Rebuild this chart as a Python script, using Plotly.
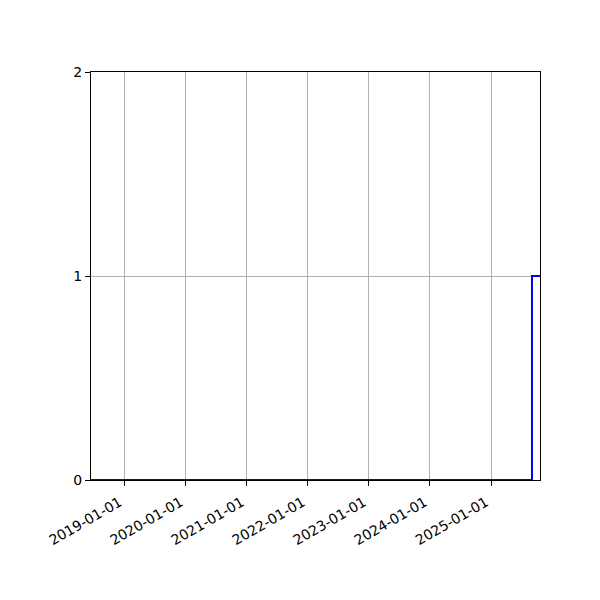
import plotly.graph_objects as go

dates = ["2018-06-14", "2025-09-03", "2025-10-21"]
values = [0, 1, 1]
tick_vals = ["2019-01-01", "2020-01-01", "2021-01-01", "2022-01-01",
             "2023-01-01", "2024-01-01", "2025-01-01"]
tick_text = tick_vals
x_range = ["2018-06-14", "2025-10-21"]

fig = go.Figure()
fig.add_trace(go.Scatter(
    x=dates, y=values, mode="lines",
    line=dict(color="#0000ff", width=2, shape="hv"),
    cliponaxis=False, showlegend=False,
))

axis_common = dict(
    showline=True, linecolor="black", linewidth=1, mirror=True,
    ticks="outside", ticklen=5, tickcolor="black", tickwidth=1,
    showgrid=True, gridcolor="#b0b0b0", gridwidth=1,
    zeroline=False, layer="below traces",
    tickfont=dict(family="DejaVu Sans", size=14, color="black"),
)

fig.update_layout(
    width=600, height=600,
    margin=dict(l=83, r=68, t=64, b=128),
    paper_bgcolor="white", plot_bgcolor="white",
    xaxis=dict(type="date", range=x_range, tickvals=tick_vals, ticktext=tick_text,
               tickangle=-30, ticklabelshift=-5, ticklabelstandoff=3, **axis_common),
    yaxis=dict(range=[0, 2], tickvals=[0, 1, 2], ticktext=["0", "1", "2"], **axis_common),
)

fig.write_html("out.html")
